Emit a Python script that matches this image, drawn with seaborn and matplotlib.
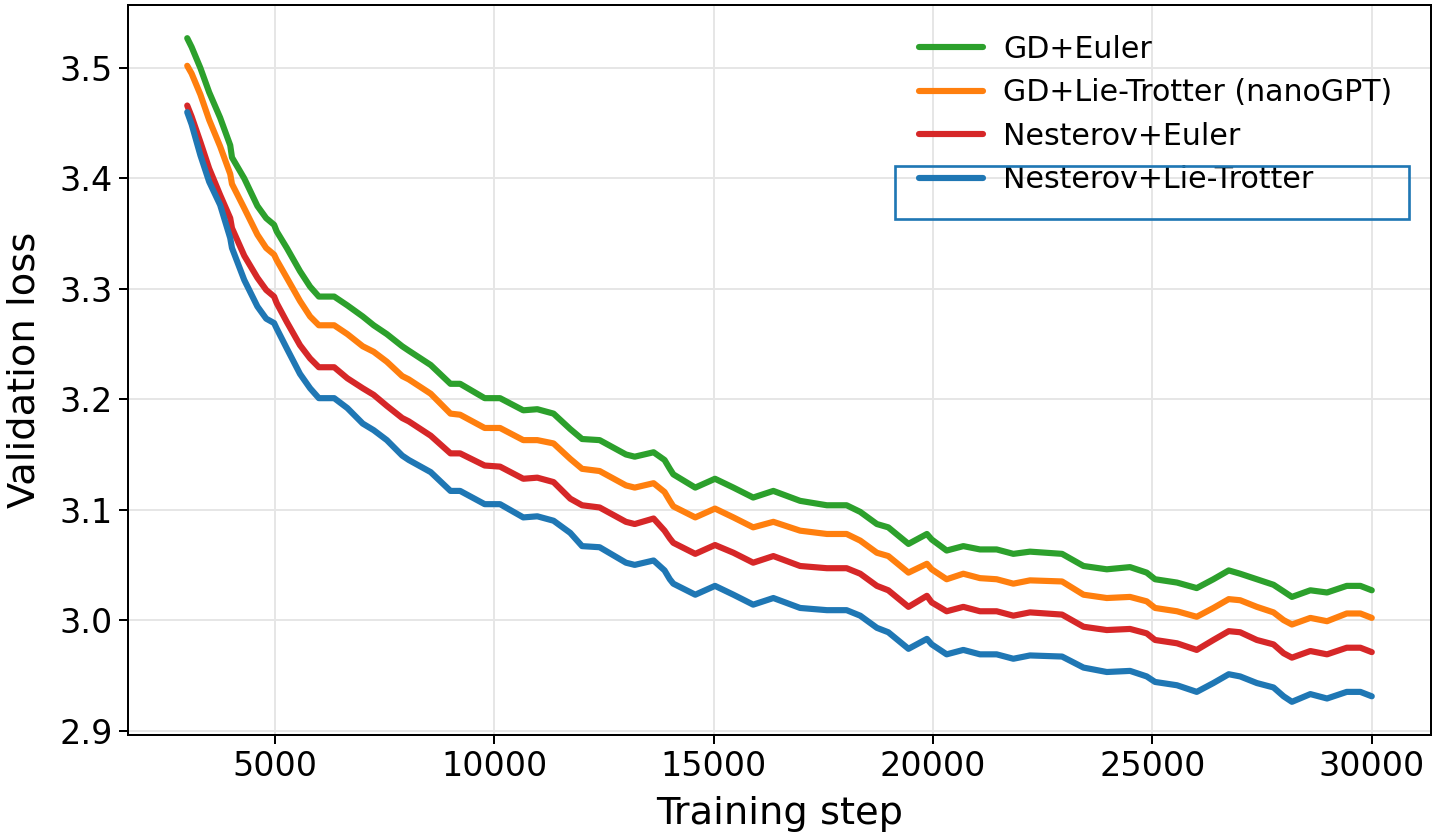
import numpy as np
import pandas as pd
import matplotlib
matplotlib.use("Agg")
import matplotlib.pyplot as plt
import seaborn as sns
from matplotlib.patches import Rectangle

steps = [3000, 3100, 3300, 3500, 3750, 3980, 4020, 4300, 4600, 4800, 4980, 5040, 5270, 5570, 5800,
         6000, 6350, 6650, 7000, 7250, 7550, 7900, 8050, 8550, 9000, 9220, 9780, 10130, 10660, 10980,
         11350, 11730, 12000, 12400, 13000, 13200, 13630, 13880, 14000, 14080, 14580, 15030, 15450,
         15900, 16360, 16970, 17580, 18030, 18340, 18720, 18980, 19440, 19860, 19970, 20310, 20690,
         21070, 21450, 21830, 22210, 22940, 23430, 23960, 24490, 24870, 25060, 25560, 26010, 26390,
         26740, 27000, 27380, 27760, 27990, 28180, 28600, 28980, 29430, 29740, 30000]

gd_euler = [3.527, 3.519, 3.500, 3.478, 3.455, 3.430, 3.419, 3.400, 3.375, 3.364, 3.358, 3.352, 3.337,
            3.316, 3.302, 3.293, 3.293, 3.285, 3.275, 3.267, 3.259, 3.248, 3.244, 3.231, 3.214, 3.214,
            3.201, 3.201, 3.190, 3.191, 3.187, 3.173, 3.164, 3.163, 3.150, 3.148, 3.152, 3.145, 3.137,
            3.132, 3.120, 3.128, 3.120, 3.111, 3.117, 3.108, 3.104, 3.104, 3.098, 3.087, 3.084, 3.069,
            3.078, 3.073, 3.063, 3.067, 3.064, 3.064, 3.060, 3.062, 3.060, 3.049, 3.046, 3.048, 3.043,
            3.037, 3.034, 3.029, 3.037, 3.045, 3.042, 3.037, 3.032, 3.026, 3.021, 3.027, 3.025, 3.031,
            3.031, 3.027]

gd_lie = [3.502, 3.495, 3.476, 3.453, 3.429, 3.404, 3.395, 3.373, 3.349, 3.337, 3.331, 3.326, 3.310,
          3.289, 3.275, 3.267, 3.267, 3.259, 3.248, 3.243, 3.234, 3.221, 3.218, 3.205, 3.187, 3.186,
          3.174, 3.174, 3.163, 3.163, 3.160, 3.146, 3.137, 3.135, 3.122, 3.120, 3.124, 3.116, 3.108,
          3.103, 3.093, 3.101, 3.093, 3.084, 3.089, 3.081, 3.078, 3.078, 3.072, 3.061, 3.058, 3.043,
          3.051, 3.046, 3.037, 3.042, 3.038, 3.037, 3.033, 3.036, 3.035, 3.023, 3.020, 3.021, 3.017,
          3.011, 3.008, 3.003, 3.011, 3.019, 3.018, 3.012, 3.007, 3.000, 2.996, 3.002, 2.999, 3.006,
          3.006, 3.002]

nest_euler = [3.466, 3.456, 3.433, 3.409, 3.385, 3.364, 3.355, 3.330, 3.310, 3.299, 3.293, 3.287, 3.270,
              3.249, 3.237, 3.229, 3.229, 3.219, 3.210, 3.204, 3.194, 3.183, 3.180, 3.167, 3.151, 3.151,
              3.140, 3.139, 3.128, 3.129, 3.125, 3.110, 3.104, 3.102, 3.089, 3.087, 3.092, 3.081, 3.074,
              3.070, 3.060, 3.068, 3.061, 3.052, 3.058, 3.049, 3.047, 3.047, 3.042, 3.031, 3.027, 3.012,
              3.022, 3.016, 3.008, 3.012, 3.008, 3.008, 3.004, 3.007, 3.005, 2.994, 2.991, 2.992, 2.988,
              2.982, 2.979, 2.973, 2.982, 2.990, 2.989, 2.982, 2.978, 2.970, 2.966, 2.972, 2.969, 2.975,
              2.975, 2.971]

nest_lie = [3.460, 3.449, 3.421, 3.397, 3.376, 3.346, 3.337, 3.308, 3.284, 3.273, 3.269, 3.264, 3.246,
            3.223, 3.210, 3.201, 3.201, 3.192, 3.178, 3.172, 3.163, 3.149, 3.145, 3.134, 3.117, 3.117,
            3.105, 3.105, 3.093, 3.094, 3.090, 3.079, 3.067, 3.066, 3.052, 3.050, 3.054, 3.045, 3.037,
            3.033, 3.023, 3.031, 3.023, 3.014, 3.020, 3.011, 3.009, 3.009, 3.004, 2.993, 2.989, 2.974,
            2.983, 2.978, 2.969, 2.973, 2.969, 2.969, 2.965, 2.968, 2.967, 2.957, 2.953, 2.954, 2.949,
            2.944, 2.941, 2.935, 2.943, 2.951, 2.949, 2.943, 2.939, 2.931, 2.926, 2.933, 2.929, 2.935,
            2.935, 2.931]

labels = ["GD+Euler", "GD+Lie-Trotter (nanoGPT)", "Nesterov+Euler", "Nesterov+Lie-Trotter"]
colors = ["#2ca02c", "#ff7f0e", "#d62728", "#1f77b4"]
series = [gd_euler, gd_lie, nest_euler, nest_lie]

frames = []
for lab, vals in zip(labels, series):
    frames.append(pd.DataFrame({"step": steps, "loss": vals, "method": lab}))
df = pd.concat(frames, ignore_index=True)

sns.set_style("ticks")
plt.rcParams["font.family"] = ["DejaVu Sans"]
plt.rcParams["text.color"] = "black"
plt.rcParams["axes.labelcolor"] = "black"
plt.rcParams["xtick.color"] = "black"
plt.rcParams["ytick.color"] = "black"

fig = plt.figure(figsize=(12, 7), dpi=120)
ax = fig.add_axes([128 / 1440, 1 - 735 / 840, (1431 - 128) / 1440, (735 - 5) / 840])

sns.lineplot(data=df, x="step", y="loss", hue="method", hue_order=labels,
             palette=dict(zip(labels, colors)), linewidth=3.7, ax=ax, sort=False)
for line in ax.get_lines():
    line.set_solid_joinstyle("round")

ax.grid(True, color="#e6e6e6", linewidth=1.2)
ax.set_axisbelow(True)
for s in ax.spines.values():
    s.set_linewidth(1.2)
    s.set_color("black")
ax.tick_params(axis="both", labelsize=20, length=5.5, width=1.2, colors="black")
ax.set_xlabel("Training step", fontsize=23, labelpad=8)
ax.set_ylabel("Validation loss", fontsize=23, labelpad=10)
ax.set_xticks([5000, 10000, 15000, 20000, 25000, 30000])
ax.set_yticks([2.9, 3.0, 3.1, 3.2, 3.3, 3.4, 3.5])

leg = ax.legend(loc="upper right", fontsize=18, frameon=False, handlelength=2.15,
                handletextpad=0.67, bbox_to_anchor=(0.991, 0.996), labelspacing=0.48)
for line in leg.get_lines():
    line.set_linewidth(3.7)
for t in leg.get_texts():
    t.set_color("black")

fig.patches.append(Rectangle((895 / 1440, 1 - 219 / 840), (1409 - 895) / 1440, 53 / 840,
                             transform=fig.transFigure, fill=False, edgecolor="#1f77b4",
                             linewidth=1.6, zorder=10))

fig.savefig("out.png", dpi=120)
